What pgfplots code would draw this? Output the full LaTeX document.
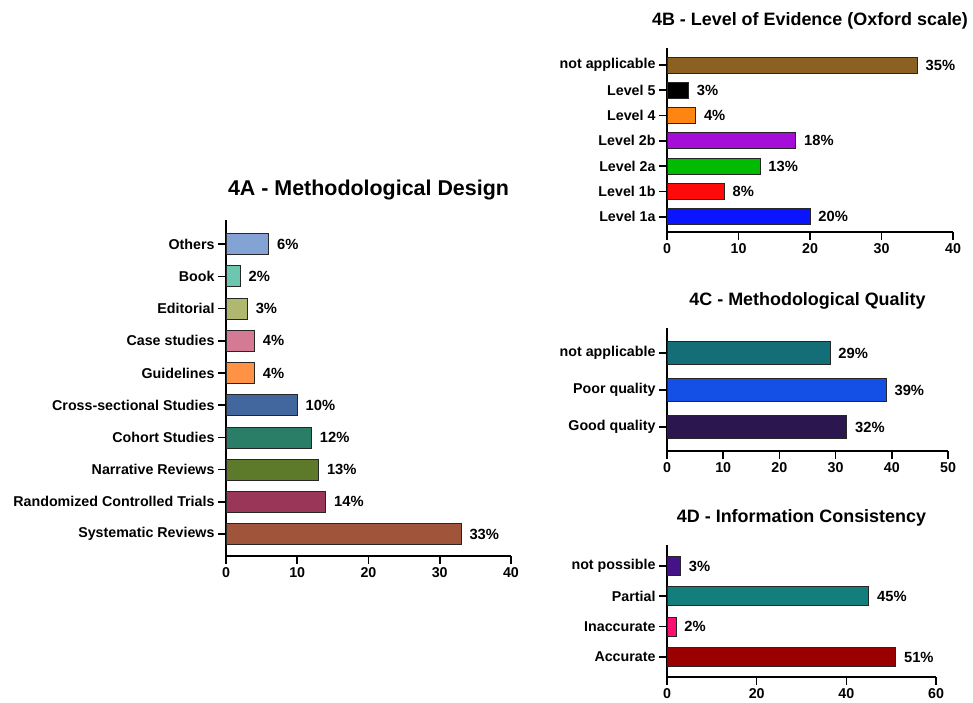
\documentclass[border=0pt]{standalone}
\usepackage{pgfplots}
\pgfplotsset{compat=1.18}
\usepackage{fontspec}
\setmainfont{Liberation Sans}

% 4A colours
\definecolor{aOth}{HTML}{82A3D4}
\definecolor{aBook}{HTML}{6CC6B0}
\definecolor{aEdit}{HTML}{AFB86E}
\definecolor{aCase}{HTML}{D57A95}
\definecolor{aGuid}{HTML}{FF9244}
\definecolor{aCross}{HTML}{42679E}
\definecolor{aCoh}{HTML}{2A7E68}
\definecolor{aNarr}{HTML}{5C7A29}
\definecolor{aRCT}{HTML}{9A3658}
\definecolor{aSys}{HTML}{A0553A}
% 4B colours
\definecolor{bNA}{HTML}{8C6020}
\definecolor{bL5}{HTML}{000000}
\definecolor{bL4}{HTML}{FF8513}
\definecolor{bL2b}{HTML}{A50ED8}
\definecolor{bL2a}{HTML}{00BB00}
\definecolor{bL1b}{HTML}{FF0A0A}
\definecolor{bL1a}{HTML}{0A14FF}
% 4C colours
\definecolor{cNA}{HTML}{136E77}
\definecolor{cPoor}{HTML}{1450E5}
\definecolor{cGood}{HTML}{2C1650}
% 4D colours
\definecolor{dNP}{HTML}{46128A}
\definecolor{dPart}{HTML}{137F7D}
\definecolor{dInac}{HTML}{FF1070}
\definecolor{dAcc}{HTML}{9A0000}

\pgfplotsset{
  hb/.style={
    scale only axis, xbar, clip=false,
    axis x line=bottom, axis y line=left,
    axis line style={-, line width=1.6bp},
    tick align=outside, major tick length=8bp,
    every tick/.style={black, line width=1.6bp},
    ticklabel style={font=\fontsize{14.3}{17}\selectfont\bfseries},
    /pgf/number format/assume math mode=true,
    point meta=x,
    nodes near coords={\pgfmathprintnumber{\pgfplotspointmeta}\%},
    every node near coord/.append style={font=\fontsize{14.8}{17}\selectfont\bfseries,
      anchor=west, inner sep=0pt, xshift=8bp},
    title style={font=\fontsize{18}{21}\selectfont\bfseries, anchor=center,
      at={(0.5,1)}, yshift=21bp},
    every axis plot/.append style={draw=black!85, line width=0.8bp, bar shift=0pt},
  },
}

\begin{document}
\begin{tikzpicture}
\path[use as bounding box] (0,0) rectangle (973bp,703bp);

% 4A
\begin{axis}[hb, at={(226bp,147bp)}, anchor=south west,
  width=285bp, height=336bp,
  xmin=0, xmax=40, xtick={0,10,20,30,40},
  ymin=-0.68, ymax=9.75, ytick={0,...,9},
  yticklabels={Systematic Reviews, Randomized Controlled Trials, Narrative Reviews,
    Cohort Studies, Cross-sectional Studies, Guidelines\hspace{4bp}, Case studies,
    Editorial\hspace{4bp}, Book, Others},
  bar width=21bp,
  title={4A - Methodological Design},
  title style={font=\fontsize{21.5}{24}\selectfont\bfseries, yshift=3bp}]
\addplot[fill=aSys] coordinates {(33,0)};
\addplot[fill=aRCT] coordinates {(14,1)};
\addplot[fill=aNarr] coordinates {(13,2)};
\addplot[fill=aCoh] coordinates {(12,3)};
\addplot[fill=aCross] coordinates {(10,4)};
\addplot[fill=aGuid] coordinates {(4,5)};
\addplot[fill=aCase] coordinates {(4,6)};
\addplot[fill=aEdit] coordinates {(3,7)};
\addplot[fill=aBook] coordinates {(2,8)};
\addplot[fill=aOth] coordinates {(6,9)};
\end{axis}

% 4B
\begin{axis}[hb, at={(667bp,471bp)}, anchor=south west,
  width=286bp, height=184bp,
  xmin=0, xmax=40, xtick={0,10,20,30,40},
  ymin=-0.6, ymax=6.67, ytick={0,...,6},
  yticklabels={Level 1a, Level 1b, Level 2a, Level 2b, Level 4, Level 5, not applicable},
  bar width=16bp,
  title={4B - Level of Evidence (Oxford scale)}]
\addplot[fill=bL1a] coordinates {(20,0)};
\addplot[fill=bL1b] coordinates {(8,1)};
\addplot[fill=bL2a] coordinates {(13,2)};
\addplot[fill=bL2b] coordinates {(18,3)};
\addplot[fill=bL4] coordinates {(4,4)};
\addplot[fill=bL5] coordinates {(3,5)};
\addplot[fill=bNA] coordinates {(35,6)};
\end{axis}

% 4C
\begin{axis}[hb, at={(667bp,252bp)}, anchor=south west,
  width=281bp, height=123bp,
  xmin=0, xmax=50, xtick={0,10,20,30,40,50},
  ymin=-0.65, ymax=2.68, ytick={0,1,2},
  yticklabels={Good quality, Poor quality, not applicable},
  bar width=23bp,
  title={4C - Methodological Quality}]
\addplot[fill=cGood] coordinates {(32,0)};
\addplot[fill=cPoor] coordinates {(39,1)};
\addplot[fill=cNA] coordinates {(29,2)};
\end{axis}

% 4D
\begin{axis}[hb, at={(667bp,26bp)}, anchor=south west,
  width=269bp, height=132bp,
  xmin=0, xmax=60, xtick={0,20,40,60},
  ymin=-0.66, ymax=3.69, ytick={0,1,2,3},
  yticklabels={Accurate, Inaccurate, Partial, not possible},
  bar width=19bp,
  title={4D - Information Consistency}]
\addplot[fill=dAcc] coordinates {(51,0)};
\addplot[fill=dInac] coordinates {(2,1)};
\addplot[fill=dPart] coordinates {(45,2)};
\addplot[fill=dNP] coordinates {(3,3)};
\end{axis}
\end{tikzpicture}
\end{document}
